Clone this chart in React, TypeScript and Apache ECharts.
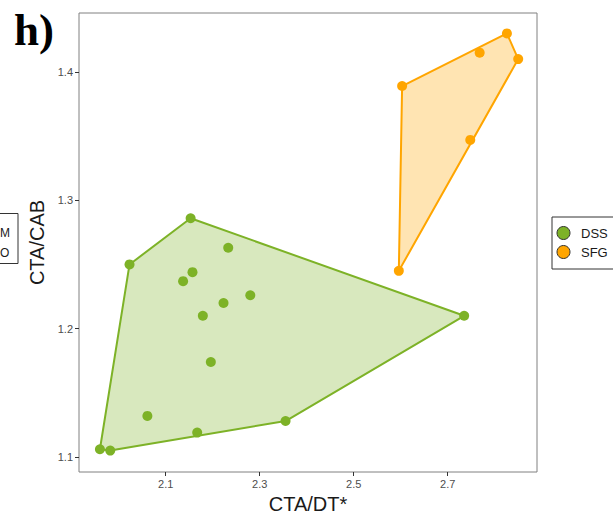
import React, { useEffect, useRef } from "react";
import * as echarts from "echarts";

// Group names shown in the legend
const groupNames = ["DSS", "SFG"];

// DSS samples: CTA/DT* (x) and CTA/CAB (y)
const dssX = [1.960, 1.982, 2.023, 2.153, 2.233, 2.157, 2.137, 2.280, 2.223, 2.179, 2.196, 2.061, 2.167, 2.355, 2.735];
const dssY = [1.106, 1.105, 1.250, 1.286, 1.263, 1.244, 1.237, 1.226, 1.220, 1.210, 1.174, 1.132, 1.119, 1.128, 1.210];

// SFG samples
const sfgX = [2.603, 2.826, 2.768, 2.850, 2.748, 2.596];
const sfgY = [1.389, 1.430, 1.415, 1.410, 1.347, 1.245];

// Axis tick labels
const xTicks = [2.1, 2.3, 2.5, 2.7];
const yTicks = [1.1, 1.2, 1.3, 1.4];

const COLORS = ["#7db227", "#ffa500"];
const FILLS = ["rgba(125,178,39,0.3)", "rgba(255,165,0,0.3)"];
const FONT = '"Liberation Sans", Arial, sans-serif';

type Pt = [number, number];

function zip(xs: number[], ys: number[]): Pt[] {
  return xs.map((x, i) => [x, ys[i]] as Pt);
}

// Monotone chain convex hull
function convexHull(points: Pt[]): Pt[] {
  const p = points.slice().sort((a, b) => a[0] - b[0] || a[1] - b[1]);
  const cross = (o: Pt, a: Pt, b: Pt) =>
    (a[0] - o[0]) * (b[1] - o[1]) - (a[1] - o[1]) * (b[0] - o[0]);
  const lower: Pt[] = [];
  for (const q of p) {
    while (lower.length >= 2 && cross(lower[lower.length - 2], lower[lower.length - 1], q) <= 0) lower.pop();
    lower.push(q);
  }
  const upper: Pt[] = [];
  for (let i = p.length - 1; i >= 0; i--) {
    const q = p[i];
    while (upper.length >= 2 && cross(upper[upper.length - 2], upper[upper.length - 1], q) <= 0) upper.pop();
    upper.push(q);
  }
  upper.pop();
  lower.pop();
  return lower.concat(upper);
}

export default function App() {
  const ref = useRef<HTMLDivElement>(null);

  useEffect(() => {
    if (!ref.current) return;
    const chart = echarts.init(ref.current, undefined, { renderer: "svg" });

    const groups = [zip(dssX, dssY), zip(sfgX, sfgY)];

    const hullSeries = groups.map((pts, gi) => {
      const hull = convexHull(pts);
      return {
        type: "custom",
        name: groupNames[gi] + " hull",
        data: hull,
        encode: { x: 0, y: 1 },
        z: 1,
        silent: true,
        renderItem: (params: any, api: any) => {
          if (params.dataIndex !== 0) return null;
          const shapePts = hull.map((p) => api.coord(p));
          return {
            type: "polygon",
            shape: { points: shapePts },
            style: { fill: FILLS[gi], stroke: COLORS[gi], lineWidth: 2, lineJoin: "round" },
          };
        },
      };
    });

    const pointSeries = groups.map((pts, gi) => ({
      type: "scatter",
      name: groupNames[gi],
      data: pts,
      symbol: "circle",
      symbolSize: 10,
      z: 3,
      itemStyle: { color: COLORS[gi], opacity: 1 },
    }));

    chart.setOption({
      animation: false,
      backgroundColor: "#ffffff",
      textStyle: { fontFamily: FONT },
      grid: {
        left: 79,
        top: 13,
        width: 458,
        height: 459,
        outerBoundsMode: "none",
        containLabel: false,
        show: true,
        borderColor: "#808080",
        borderWidth: 1,
        backgroundColor: "transparent",
      },
      xAxis: {
        type: "value",
        min: 1.9155,
        max: 2.89,
        name: "CTA/DT*",
        nameLocation: "middle",
        nameGap: 21,
        nameTextStyle: { fontSize: 20, color: "#1a1a1a", fontFamily: FONT },
        axisLine: { show: false },
        splitLine: { show: false },
        axisTick: { show: true, length: 4, customValues: xTicks, lineStyle: { color: "#333333" } },
        axisLabel: {
          customValues: xTicks,
          margin: 6,
          fontSize: 11,
          color: "#4d4d4d",
          fontFamily: FONT,
          formatter: (v: number) => v.toFixed(1),
        },
      },
      yAxis: {
        type: "value",
        min: 1.0883,
        max: 1.4459,
        name: "CTA/CAB",
        nameLocation: "middle",
        nameGap: 30,
        nameTextStyle: { fontSize: 20, color: "#1a1a1a", fontFamily: FONT },
        axisLine: { show: false },
        splitLine: { show: false },
        axisTick: { show: true, length: 4, customValues: yTicks, lineStyle: { color: "#333333" } },
        axisLabel: {
          customValues: yTicks,
          margin: 6,
          fontSize: 11,
          color: "#4d4d4d",
          fontFamily: FONT,
          formatter: (v: number) => v.toFixed(1),
        },
      },
      legend: {
        data: groupNames,
        orient: "vertical",
        left: 552,
        top: 217,
        padding: [9, 30, 10, 4.5],
        itemWidth: 25,
        itemHeight: 13,
        itemGap: 5,
        icon: "circle",
        borderColor: "#333333",
        borderWidth: 1,
        itemStyle: { borderColor: "#333333", borderWidth: 1 },
        textStyle: { fontSize: 13, color: "#1a1a1a", fontFamily: FONT },
      },
      graphic: [
        {
          type: "text",
          left: 14,
          top: 7,
          style: {
            text: "h)",
            font: 'bold 45px "Liberation Serif", "Times New Roman", serif',
            fill: "#000000",
          },
        },
        {
          type: "rect",
          shape: { x: -60, y: 213.5, width: 78, height: 50 },
          style: { fill: "none", stroke: "#333333", lineWidth: 1 },
        },
        {
          type: "text",
          style: { text: "M", x: 0, y: 233, align: "left", verticalAlign: "middle", fontSize: 12, fontFamily: FONT, fill: "#1a1a1a" },
        },
        {
          type: "text",
          style: { text: "O", x: 0, y: 253, align: "left", verticalAlign: "middle", fontSize: 12, fontFamily: FONT, fill: "#1a1a1a" },
        },
      ],
      series: [...hullSeries, ...pointSeries],
    });

    return () => chart.dispose();
  }, []);

  return (
    <div
      ref={ref}
      style={{ position: "fixed", left: 0, top: 0, width: 613, height: 515 }}
    />
  );
}
